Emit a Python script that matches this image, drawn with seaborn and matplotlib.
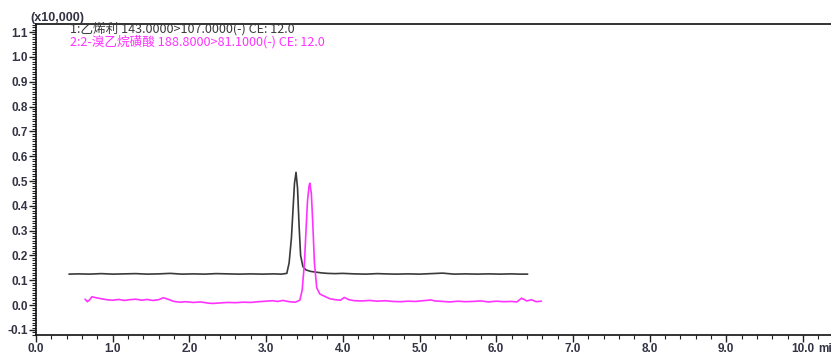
import matplotlib
matplotlib.use("Agg")
import matplotlib.pyplot as plt
import seaborn as sns
import pandas as pd
from matplotlib.ticker import MultipleLocator

# ---- data (y in units of x10,000) ----
black_t = [0.43, 0.55, 0.7, 0.85, 1.0, 1.15, 1.3, 1.45, 1.6, 1.75, 1.9, 2.05, 2.2, 2.35, 2.5,
           2.65, 2.8, 2.95, 3.1, 3.2, 3.27, 3.30, 3.33, 3.35, 3.37, 3.39, 3.41, 3.43, 3.45,
           3.48, 3.52, 3.58, 3.65, 3.72, 3.8, 3.9, 4.0, 4.15, 4.3, 4.45, 4.55, 4.7, 4.85,
           5.0, 5.15, 5.3, 5.45, 5.6, 5.75, 5.9, 6.05, 6.2, 6.3, 6.41]
black_v = [0.125, 0.126, 0.125, 0.127, 0.125, 0.126, 0.127, 0.125, 0.126, 0.128, 0.125, 0.126,
           0.125, 0.127, 0.126, 0.125, 0.126, 0.125, 0.126, 0.125, 0.128, 0.17, 0.27, 0.38,
           0.49, 0.535, 0.47, 0.32, 0.20, 0.155, 0.142, 0.136, 0.133, 0.130, 0.128, 0.127,
           0.128, 0.126, 0.125, 0.127, 0.126, 0.125, 0.126, 0.125, 0.127, 0.129, 0.125,
           0.126, 0.125, 0.126, 0.125, 0.126, 0.125, 0.125]

pink_t = [0.64, 0.67, 0.70, 0.73, 0.78, 0.85, 0.92, 1.0, 1.08, 1.15, 1.22, 1.3, 1.38, 1.45,
          1.52, 1.6, 1.66, 1.72, 1.8, 1.88, 1.95, 2.05, 2.15, 2.25, 2.31, 2.4, 2.5, 2.6,
          2.7, 2.8, 2.9, 3.0, 3.08, 3.15, 3.22, 3.3, 3.38, 3.44, 3.47, 3.50, 3.52, 3.54,
          3.56, 3.57, 3.59, 3.61, 3.63, 3.66, 3.70, 3.76, 3.83, 3.9, 3.97, 4.02, 4.08,
          4.15, 4.25, 4.35, 4.45, 4.55, 4.65, 4.75, 4.85, 4.95, 5.05, 5.15, 5.2, 5.3,
          5.4, 5.5, 5.6, 5.7, 5.8, 5.9, 6.0, 6.1, 6.2, 6.27, 6.33, 6.4, 6.46, 6.52, 6.59]
pink_v = [0.024, 0.014, 0.022, 0.034, 0.030, 0.026, 0.022, 0.020, 0.023, 0.019, 0.022, 0.024,
          0.020, 0.023, 0.019, 0.022, 0.030, 0.024, 0.015, 0.012, 0.014, 0.011, 0.013,
          0.008, 0.007, 0.009, 0.011, 0.010, 0.012, 0.011, 0.014, 0.016, 0.018, 0.015,
          0.019, 0.014, 0.012, 0.020, 0.06, 0.17, 0.30, 0.42, 0.48, 0.491, 0.45, 0.32,
          0.17, 0.07, 0.045, 0.036, 0.026, 0.022, 0.020, 0.031, 0.022, 0.018, 0.017,
          0.019, 0.016, 0.018, 0.015, 0.014, 0.016, 0.015, 0.018, 0.021, 0.017, 0.015,
          0.013, 0.016, 0.014, 0.015, 0.017, 0.013, 0.016, 0.014, 0.015, 0.013, 0.028,
          0.017, 0.022, 0.014, 0.016]

x_ticks = [0, 1, 2, 3, 4, 5, 6, 7, 8, 9, 10]
x_labels = ["0.0", "1.0", "2.0", "3.0", "4.0", "5.0", "6.0", "7.0", "8.0", "9.0", "10.0"]
x_unit = "min"
y_ticks = [-0.1, 0.0, 0.1, 0.2, 0.3, 0.4, 0.5, 0.6, 0.7, 0.8, 0.9, 1.0, 1.1]
y_labels = ["-0.1", "0.0", "0.1", "0.2", "0.3", "0.4", "0.5", "0.6", "0.7", "0.8", "0.9", "1.0", "1.1"]

label1 = "1:乙烯利 143.0000>107.0000(-) CE: 12.0"
label2 = "2:2-溴乙烷磺酸 188.8000>81.1000(-) CE: 12.0"
scale_label = "(x10,000)"

sns.set_style("ticks")
plt.rcParams['font.family'] = ['Liberation Sans', 'DejaVu Sans']

fig = plt.figure(figsize=(8.31, 3.54), dpi=100)
ax = fig.add_axes([36 / 831, 19 / 354, 1 - 36 / 831, (335 - 24) / 354])

df_b = pd.DataFrame({"t": black_t, "v": black_v})
df_p = pd.DataFrame({"t": pink_t, "v": pink_v})
sns.lineplot(data=df_b, x="t", y="v", ax=ax, color="#3a3a3a", lw=1.2, sort=False)
sns.lineplot(data=df_p, x="t", y="v", ax=ax, color="#ff33ff", lw=1.2, sort=False)

ax.set_xlim(0, (831 - 36) / 76.7)
ax.set_ylim(-0.1 - 5 / 248.3, 1.1 + 8 / 248.3)
ax.set_xlabel("")
ax.set_ylabel("")

ax.set_xticks(x_ticks)
ax.set_xticklabels(x_labels)
ax.set_yticks(y_ticks)
ax.set_yticklabels(y_labels)
ax.xaxis.set_minor_locator(MultipleLocator(0.2))
ax.yaxis.set_minor_locator(MultipleLocator(0.01))
ax.tick_params(axis="both", which="major", length=5, width=1, color="#222222",
               labelsize=8.5, labelcolor="#333344", pad=1)
ax.tick_params(axis="both", which="minor", length=3, width=0.8, color="#222222")
for lab in ax.get_xticklabels() + ax.get_yticklabels():
    lab.set_fontweight("bold")

for s in ["left", "bottom", "top"]:
    ax.spines[s].set_visible(True)
    ax.spines[s].set_color("#111111")
    ax.spines[s].set_linewidth(1.2)
ax.spines["right"].set_visible(False)

# axis unit written after the last tick label (cut by the right edge as in the reference)
ax.annotate(x_unit, xy=(10, 0), xycoords=("data", "axes fraction"),
            xytext=(11, -6), textcoords="offset points", fontsize=8.5,
            color="#333344", fontweight="bold", va="top", ha="left",
            annotation_clip=False)
fig.text(30 / 831, 1 - 18 / 354, scale_label, fontsize=9, color="#333344",
         fontweight="bold", va="center", ha="left")
fig.text(70 / 831, 1 - 28.5 / 354, label1, fontsize=9.1, color="#3a3a3a",
         family=['Noto Sans CJK SC', 'DejaVu Sans'], va="center", ha="left")
fig.text(70 / 831, 1 - 41.5 / 354, label2, fontsize=9.1, color="#ff33ff",
         family=['Noto Sans CJK SC', 'DejaVu Sans'], va="center", ha="left")

fig.savefig("out.png", dpi=100)
